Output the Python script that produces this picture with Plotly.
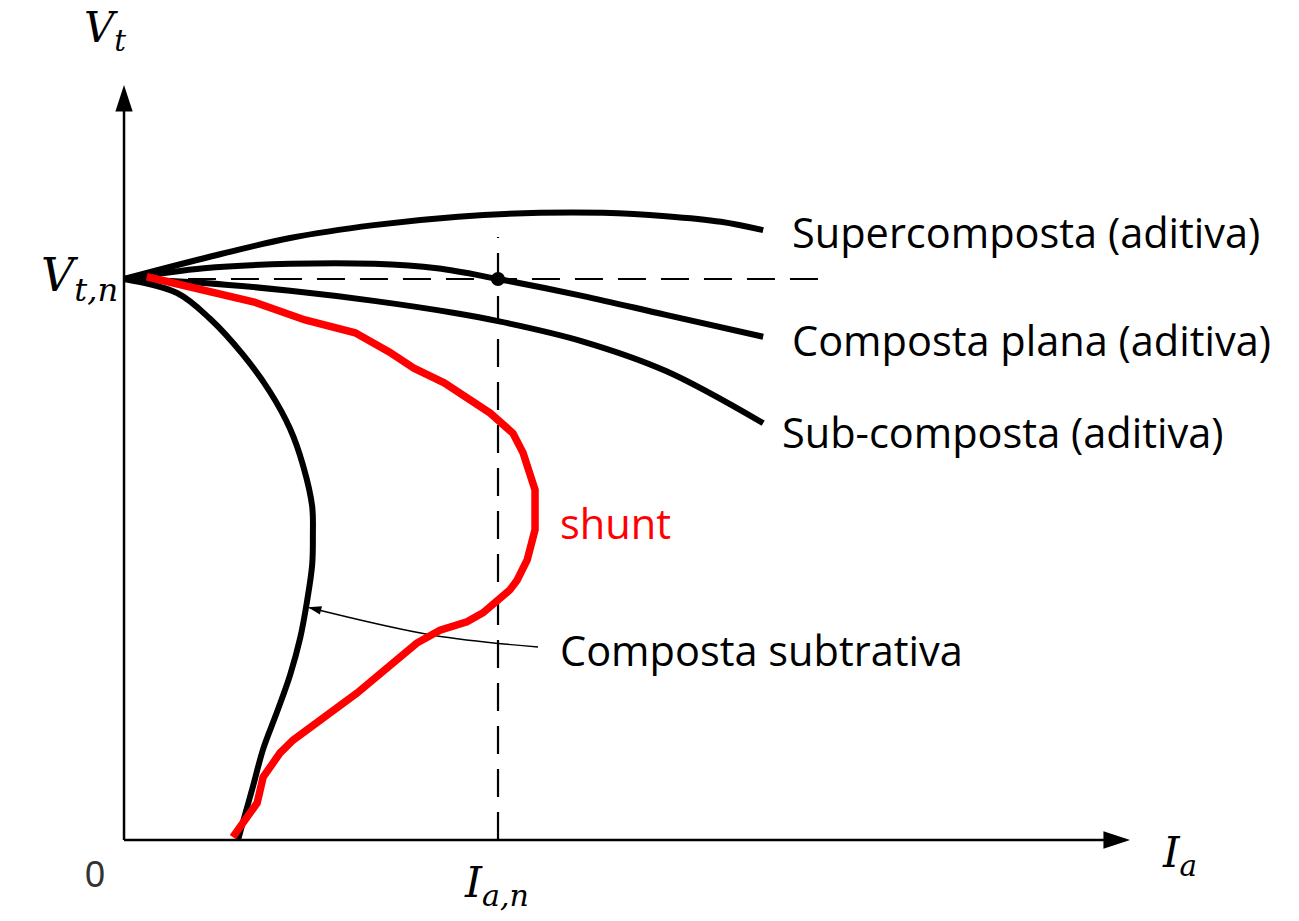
import plotly.graph_objects as go

# Armature current (Ia, % of rated) and terminal voltage (Vt, % of rated)
super_ia = [0, 21.4, 44.4, 66.8, 89.3, 111.2, 128.1, 144.9, 159.6, 170.9]
super_vt = [100, 103.7, 107.3, 109.6, 111.1, 111.8, 111.8, 111.2, 110.2, 108.7]

plana_ia = [0, 21.4, 44.4, 66.8, 83.7, 100, 122.5, 144.9, 170.9]
plana_vt = [100, 101.9, 102.7, 102.7, 101.9, 100, 97.0, 93.6, 89.7]

sub_ia = [0, 21.4, 44.4, 66.8, 88.8, 100, 122.5, 144.9, 170.9]
sub_vt = [100, 99.3, 97.9, 96.1, 93.9, 92.5, 88.9, 83.6, 74.3]

diff_ia = [0, 14.2, 23.0, 31.8, 39.0, 44.4, 47.9, 50.3, 50.5, 50.3, 48.9, 47.1, 44.4,
           40.9, 37.2, 34.5, 31.8, 30.5]
diff_vt = [100, 97.5, 92.9, 86.5, 79.9, 73.3, 66.7, 59.5, 54.4, 49.0, 42.4, 36.0, 29.4,
           22.8, 16.2, 9.6, 3.2, 0]

shunt_ia = [6.1, 21.4, 34.8, 48.4, 61.8, 70.9, 77.5, 85.6, 97.9, 104.0,
            106.7, 109.9, 109.9, 107.8, 105.1, 103.2, 99.7, 96.0, 91.7, 84.5, 78.3, 69.3,
            62.3, 45.2, 41.7, 37.2, 35.6, 29.1]
shunt_vt = [100.4, 98.0, 95.9, 92.7, 90.4, 87.0, 84.1, 81.5, 76.1, 72.5,
            69.0, 62.4, 55.3, 49.9, 46.3, 44.6, 42.8, 40.5, 38.9, 37.4, 35.1, 30.3,
            26.2, 17.8, 15.5, 11.2, 6.6, 0.5]

# Rated point and reference lines
ia_rated = 100
vt_rated = 100
hline_ia = [5.6, 186.1]
vline_vt = [0, 107.5]

# Pointer from the "Composta subtrativa" label to its curve
pointer_ia = [110.7, 82.6, 49.6]
pointer_vt = [34.4, 36.5, 41.4]

# Axis extents
ia_axis_end = 269.0
vt_axis_end = 134.6

BLACK = "#000000"
RED = "#ff0000"
TXT = "Open Sans"
MATH = "DejaVu Serif"
DASH = "28px,15px"

fig = go.Figure()


def curve(x, y, color, width, shape="spline", dash="solid"):
    line = dict(color=color, width=width, shape=shape, dash=dash)
    if shape == "spline":
        line["smoothing"] = 1.0
    fig.add_trace(go.Scatter(x=x, y=y, mode="lines", line=line,
                             hoverinfo="skip", showlegend=False))


def arrow_tip(x, y, angle, size):
    fig.add_trace(go.Scatter(x=[x], y=[y], mode="markers",
                             marker=dict(symbol="arrow", angle=angle, size=size,
                                         color=BLACK, line=dict(width=0)),
                             hoverinfo="skip", showlegend=False))


# axes
curve([0, ia_axis_end - 2], [0, 0], BLACK, 2.5, shape="linear")
curve([0, 0], [0, vt_axis_end - 2], BLACK, 2.5, shape="linear")
arrow_tip(ia_axis_end, 0, 90, 28)
arrow_tip(0, vt_axis_end, 0, 28)

# dashed rated lines
curve(hline_ia, [vt_rated, vt_rated], BLACK, 2.2, shape="linear", dash=DASH)
curve([ia_rated, ia_rated], vline_vt, BLACK, 2.2, shape="linear", dash=DASH)

# characteristics
curve(super_ia, super_vt, BLACK, 6)
curve(plana_ia, plana_vt, BLACK, 6)
curve(sub_ia, sub_vt, BLACK, 6)
curve(diff_ia, diff_vt, BLACK, 6)
curve(pointer_ia, pointer_vt, BLACK, 1.4)
arrow_tip(pointer_ia[-1] - 0.4, pointer_vt[-1] + 0.1, 284, 14)
curve(shunt_ia, shunt_vt, RED, 7.5, shape="linear")

# rated operating point
fig.add_trace(go.Scatter(x=[ia_rated], y=[vt_rated], mode="markers",
                         marker=dict(color=BLACK, size=14), hoverinfo="skip", showlegend=False))

anns = []


def label(x, y, text, size, color=BLACK, family=TXT, xanchor="left"):
    anns.append(dict(x=x, y=y, xref="x", yref="y", text=text, showarrow=False,
                     xanchor=xanchor, yanchor="middle",
                     font=dict(family=family, size=size, color=color)))


label(178.1, 108.4, "Supercomposta (aditiva)", 41.5)
label(178.1, 89.1, "Composta plana (aditiva)", 41.5)
label(175.4, 72.7, "Sub-composta (aditiva)", 41.5)
label(116.0, 56.5, "shunt", 41.5, color=RED)
label(116.0, 33.9, "Composta subtrativa", 41.5)

label(-5.1, 144.3, "<i>V</i><sub><i>t</i></sub>", 42, family=MATH, xanchor="center")
label(-1.1, 100.0, "<i>V</i><sub><i>t,n</i></sub>", 46, family=MATH, xanchor="right")
label(277.0, -2.7, "<i>I</i><sub><i>a</i></sub>", 42, family=MATH)
label(99.7, -8.0, "<i>I</i><sub><i>a,n</i></sub>", 43, family=MATH, xanchor="center")
label(-7.8, -6.2, "0", 36, color="#333333", family="Liberation Sans", xanchor="center")

fig.update_layout(
    width=1299, height=921,
    margin=dict(l=0, r=0, t=0, b=0),
    paper_bgcolor="white", plot_bgcolor="white",
    xaxis=dict(range=[-33.16, 314.17], visible=False, fixedrange=True),
    yaxis=dict(range=[-14.44, 149.73], visible=False, fixedrange=True),
    annotations=anns,
    showlegend=False,
)

fig.write_html("out.html", config={"displayModeBar": False})
